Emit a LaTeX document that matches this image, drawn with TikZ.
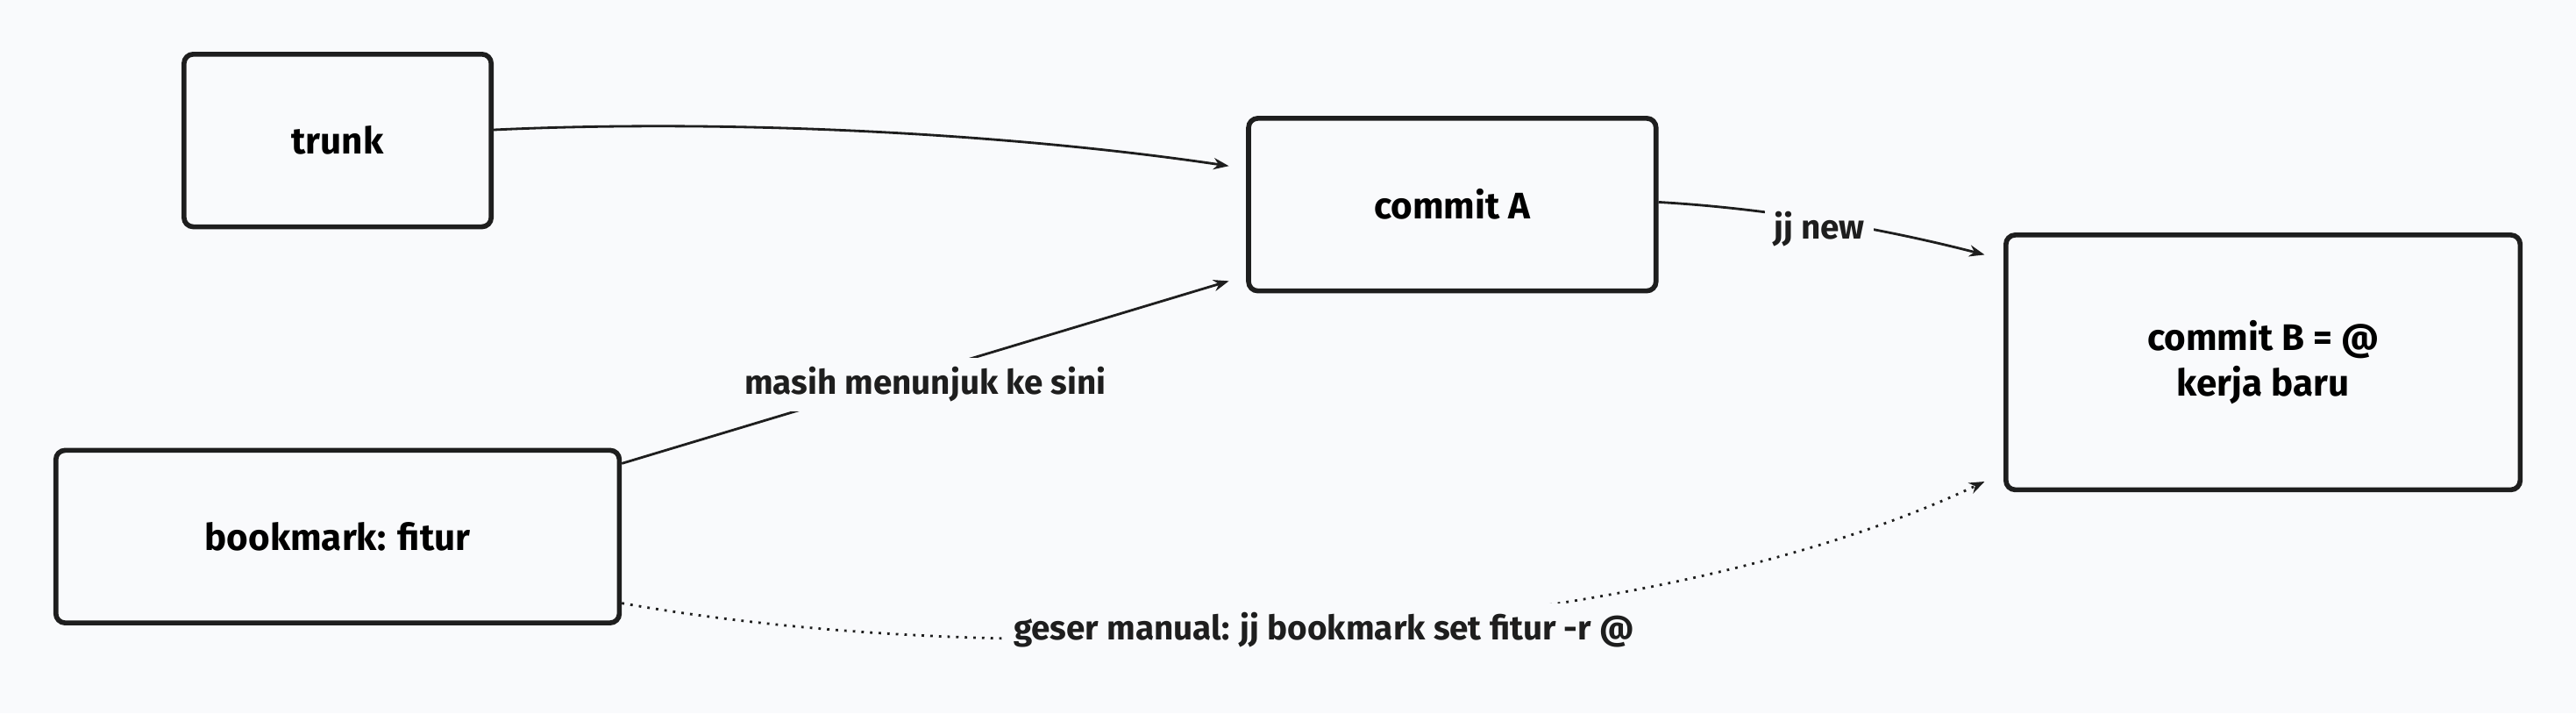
\documentclass[tikz,border=0pt]{standalone}
\usepackage{fontspec}
\setmainfont{Fira Sans}
\usetikzlibrary{arrows.meta,positioning}
\definecolor{bg}{HTML}{F9FAFC}
\definecolor{ink}{HTML}{1E1E1E}
\begin{document}
\begin{tikzpicture}[x=0.01875cm,y=-0.01875cm,
    box/.style={draw=ink,line width=1.6pt,rounded corners=3pt,fill=bg,align=center,font=\bfseries\fontsize{12}{15}\selectfont},
    lbl/.style={fill=bg,inner sep=3pt,font=\fontsize{11}{13}\selectfont\bfseries,text=ink},
    link/.style={draw=ink,line width=0.8pt,-{Stealth[length=5pt]}}]
  \fill[bg] (0,0) rectangle (1568,434);
  \useasboundingbox (0,0) rectangle (1568,434);
  % boxes
  \node[box,minimum width=187*0.01875cm,minimum height=105*0.01875cm] (trunk) at (205.5,85.5) {trunk};
  \node[box,minimum width=248*0.01875cm,minimum height=105*0.01875cm] (cA) at (884,124.5) {commit A};
  \node[box,minimum width=313*0.01875cm,minimum height=155*0.01875cm] (cB) at (1377.5,220.5) {commit B = @\\kerja baru};
  \node[box,minimum width=343*0.01875cm,minimum height=105*0.01875cm] (bm) at (205.5,326.5) {bookmark: fitur};
  % links
  \coordinate (aIn) at (748,101);
  \coordinate (aIn2) at (748,171);
  \coordinate (bIn) at (1208,155);
  \coordinate (bIn2) at (1208,293);
  \draw[link] (trunk.east|-0,79) .. controls (450,72) and (620,82) .. (aIn);
  \draw[link] (cA.east|-0,123) .. controls (1080,127) and (1150,140) .. (bIn)
    node[lbl,pos=0.47,yshift=-3pt] {jj new};
  \draw[link] (bm.east|-0,282) -- (aIn2)
    node[lbl,pos=0.5,yshift=-4pt] {masih menunjuk ke sini};
  \draw[link,dotted] (bm.east|-0,367) .. controls (620,410) and (1000,392) .. (bIn2)
    node[lbl,pos=0.5] {geser manual: jj bookmark set fitur -r @};
\end{tikzpicture}
\end{document}
